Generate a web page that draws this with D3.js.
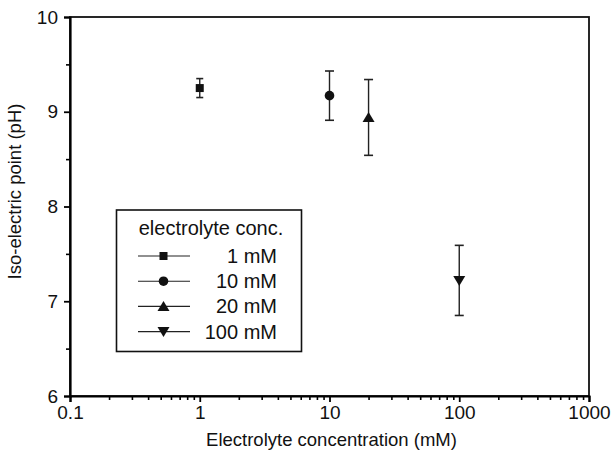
<!DOCTYPE html>
<html>
<head>
<meta charset="utf-8">
<script src="https://cdn.jsdelivr.net/npm/d3@7"></script>
<style>
  html, body { margin: 0; padding: 0; background: #fff; }
  svg { display: block; }
  text { font-family: "Liberation Sans", Arial, sans-serif; fill: #111; }
</style>
</head>
<body>
<svg id="chart" width="613" height="456"></svg>
<script>
// Iso-electric point measured at four electrolyte concentrations
const concentrations = [1, 10, 20, 100];          // mM
const isoPoint       = [9.25, 9.17, 8.94, 7.22];  // pH
const isoError       = [0.10, 0.26, 0.40, 0.37];  // pH, ± half-range
const seriesLabels   = ["1 mM", "10 mM", "20 mM", "100 mM"];
const markerShapes   = ["square", "circle", "triangle", "triangleDown"];
const xTickValues    = [0.1, 1, 10, 100, 1000];
const xTickLabels    = ["0.1", "1", "10", "100", "1000"];
const yTickValues    = [6, 7, 8, 9, 10];
const legendTitle    = "electrolyte conc.";
const xTitle         = "Electrolyte concentration (mM)";
const yTitle         = "Iso-electric point (pH)";

const svg = d3.select("#chart");
const margin = { left: 70, right: 24, top: 17, bottom: 60 };
const W = 613, H = 456;
const plotW = W - margin.left - margin.right;
const plotH = H - margin.top - margin.bottom;

const x = d3.scaleLog().domain([0.1, 1000]).range([margin.left, margin.left + plotW]);
const y = d3.scaleLinear().domain([6, 10]).range([margin.top + plotH, margin.top]);

// frame (top and right edges)
svg.append("rect")
  .attr("x", margin.left).attr("y", margin.top)
  .attr("width", plotW).attr("height", plotH)
  .attr("fill", "none").attr("stroke", "#111").attr("stroke-width", 1.8);

// minor ticks on log axis
const minorX = [];
for (let d = 0.1; d < 1000; d *= 10) for (let k = 2; k <= 9; k++) minorX.push(d * k);

const xAxis = d3.axisBottom(x).tickValues(xTickValues)
  .tickFormat((d, i) => xTickLabels[i]).tickSize(6).tickPadding(4);
const gx = svg.append("g").attr("transform", `translate(0,${margin.top + plotH})`).call(xAxis);
gx.select(".domain").attr("stroke-width", 2.2);
gx.selectAll(".tick line").attr("stroke-width", 1.8);
gx.selectAll(".tick text").attr("font-size", 19).attr("font-family", "Liberation Sans, Arial, sans-serif");
svg.append("g").attr("transform", `translate(0,${margin.top + plotH})`)
  .call(d3.axisBottom(x).tickValues(minorX).tickSize(4).tickFormat(""))
  .call(g => g.select(".domain").remove())
  .selectAll(".tick line").attr("stroke-width", 1.6);

const yAxis = d3.axisLeft(y).tickValues(yTickValues).tickFormat(d3.format("d")).tickSize(6).tickPadding(6);
const gy = svg.append("g").attr("transform", `translate(${margin.left},0)`).call(yAxis);
gy.select(".domain").attr("stroke-width", 2.2);
gy.selectAll(".tick line").attr("stroke-width", 1.8);
gy.selectAll(".tick text").attr("font-size", 19).attr("font-family", "Liberation Sans, Arial, sans-serif");
svg.append("g").attr("transform", `translate(${margin.left},0)`)
  .call(d3.axisLeft(y).tickValues([6.5, 7.5, 8.5, 9.5]).tickSize(4).tickFormat(""))
  .call(g => g.select(".domain").remove())
  .selectAll(".tick line").attr("stroke-width", 1.6);

// axis titles
svg.append("text").attr("x", margin.left + plotW / 2 + 2).attr("y", 446)
  .attr("text-anchor", "middle").attr("font-size", 18.5).text(xTitle);
svg.append("text").attr("transform", `translate(21,${margin.top + plotH / 2 - 15}) rotate(-90)`)
  .attr("text-anchor", "middle").attr("font-size", 18.5).text(yTitle);

// marker drawing
function marker(g, shape, cx, cy) {
  if (shape === "square") {
    g.append("rect").attr("x", cx - 4).attr("y", cy - 4).attr("width", 8).attr("height", 8).attr("fill", "#111");
  } else if (shape === "circle") {
    g.append("circle").attr("cx", cx).attr("cy", cy).attr("r", 4.8).attr("fill", "#111");
  } else if (shape === "triangle") {
    g.append("path").attr("d", `M${cx},${cy - 5.5}L${cx + 6},${cy + 4.5}L${cx - 6},${cy + 4.5}Z`).attr("fill", "#111");
  } else {
    g.append("path").attr("d", `M${cx},${cy + 5.5}L${cx + 6},${cy - 4.5}L${cx - 6},${cy - 4.5}Z`).attr("fill", "#111");
  }
}

// data points with error bars
const pts = svg.append("g");
concentrations.forEach((c, i) => {
  const cx = x(c);
  const top = y(isoPoint[i] + isoError[i]);
  const bot = y(isoPoint[i] - isoError[i]);
  const cap = i === 0 ? 3.5 : 4.5;
  pts.append("line").attr("x1", cx).attr("x2", cx).attr("y1", top).attr("y2", bot)
    .attr("stroke", "#222").attr("stroke-width", 1.4);
  pts.append("line").attr("x1", cx - cap).attr("x2", cx + cap).attr("y1", top).attr("y2", top)
    .attr("stroke", "#222").attr("stroke-width", 1.6);
  pts.append("line").attr("x1", cx - cap).attr("x2", cx + cap).attr("y1", bot).attr("y2", bot)
    .attr("stroke", "#222").attr("stroke-width", 1.6);
  marker(pts, markerShapes[i], cx, y(isoPoint[i]));
});

// legend
const lg = svg.append("g");
lg.append("rect").attr("x", 116.5).attr("y", 210).attr("width", 185).attr("height", 141.5)
  .attr("fill", "#fff").attr("stroke", "#111").attr("stroke-width", 1.6);
lg.append("text").attr("x", 211).attr("y", 235).attr("text-anchor", "middle")
  .attr("font-size", 20).text(legendTitle);
seriesLabels.forEach((lab, i) => {
  const cy = 256 + i * 25.2;
  lg.append("line").attr("x1", 138).attr("x2", 190).attr("y1", cy).attr("y2", cy)
    .attr("stroke", "#222").attr("stroke-width", 1.1);
  marker(lg, markerShapes[i], 163.5, cy);
  lg.append("text").attr("x", 277).attr("y", cy + 7).attr("text-anchor", "end")
    .attr("font-size", 20).text(lab);
});
</script>
</body>
</html>
